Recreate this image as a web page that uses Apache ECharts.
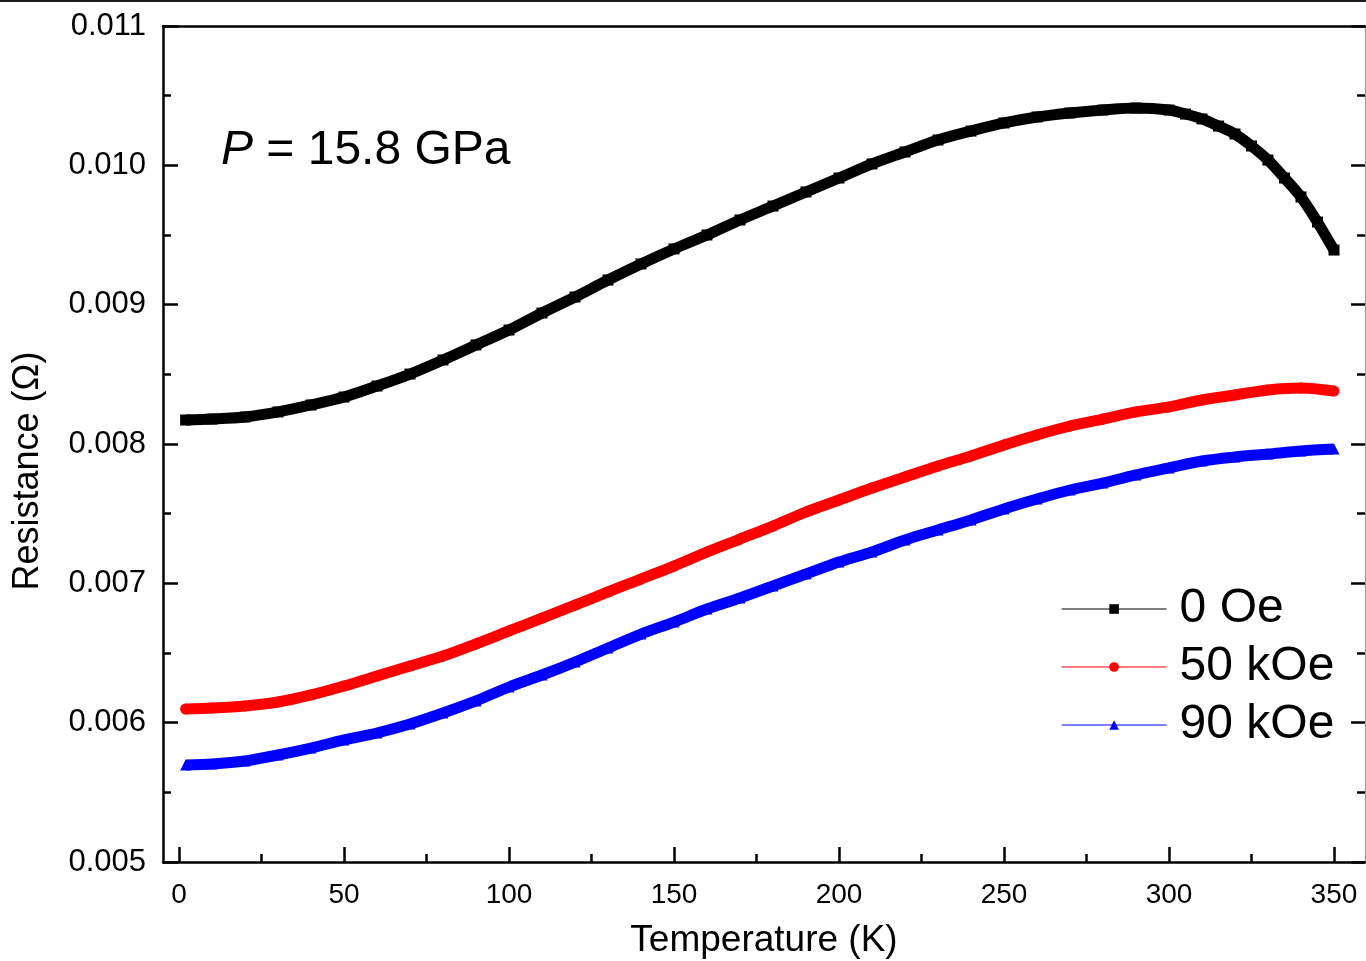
<!DOCTYPE html>
<html>
<head>
<meta charset="utf-8">
<script src="https://cdn.jsdelivr.net/npm/echarts@6/dist/echarts.min.js"></script>
<style>html,body{margin:0;padding:0;background:#fff}#c{width:1366px;height:961px}</style>
</head>
<body>
<div id="c"></div>
<script>
// ---- data ----
const tempsBlack = [2,10,20,30,40,50,60,70,80,90,100,110,120,130,140,150,160,170,180,190,200,210,220,230,240,250,260,270,280,290,300,305,310,315,320,325,330,335,340,345,350];
const r0Oe = [0.008172,0.008179,0.008194,0.008230,0.008280,0.008337,0.008416,0.008502,0.008603,0.008711,0.008818,0.008940,0.009055,0.009177,0.009292,0.009400,0.009500,0.009608,0.009708,0.009809,0.009909,0.010010,0.010096,0.010182,0.010246,0.010304,0.010347,0.010376,0.010397,0.010411,0.010397,0.010368,0.010333,0.010282,0.010225,0.010139,0.010038,0.009909,0.009773,0.009593,0.009392];
const temps = [2,10,20,30,40,50,60,70,80,90,100,110,120,130,140,150,160,170,180,190,200,210,220,230,240,250,260,270,280,290,300,310,320,330,340,350];
const r50kOe = [0.006098,0.006105,0.006120,0.006148,0.006199,0.006263,0.006335,0.006407,0.006478,0.006565,0.006658,0.006751,0.006844,0.006938,0.007031,0.007124,0.007225,0.007318,0.007411,0.007512,0.007598,0.007684,0.007763,0.007842,0.007914,0.007993,0.008065,0.008129,0.008179,0.008230,0.008266,0.008316,0.008352,0.008388,0.008402,0.008380];
const r90kOe = [0.005696,0.005703,0.005725,0.005768,0.005818,0.005876,0.005926,0.005990,0.006069,0.006156,0.006256,0.006342,0.006435,0.006536,0.006636,0.006722,0.006816,0.006895,0.006981,0.007067,0.007153,0.007225,0.007311,0.007383,0.007455,0.007534,0.007605,0.007670,0.007720,0.007778,0.007828,0.007878,0.007907,0.007928,0.007950,0.007964];
const seriesNames = ['0 Oe', '50 kOe', '90 kOe'];
const xMajorTicks = [0,50,100,150,200,250,300,350];
const xMinorTicks = [25,75,125,175,225,275,325];
const yMin = 0.005, yMax = 0.011, yStep = 0.001;
const xMin = -4.85, xMax = 359.4;

const FONT = "'Liberation Sans', Arial, Helvetica, sans-serif";
const pair = (xs, ys) => xs.map((x, i) => [x, ys[i]]);
const tickStyle = {color: '#000', width: 2.5};

const chart = echarts.init(document.getElementById('c'), null, {renderer: 'canvas', width: 1366, height: 961});

function mkSeries(name, xs, ys, color, symbol) {
  return {
    name: name, type: 'line', xAxisIndex: 0, yAxisIndex: 0,
    data: pair(xs, ys),
    smooth: 0.3,
    symbol: symbol, symbolSize: 11, showSymbol: true,
    lineStyle: {color: color, width: 11},
    itemStyle: {color: color},
    emphasis: {disabled: true}
  };
}

const option = {
  backgroundColor: '#fff',
  animation: false,
  grid: {left: 163, right: 1, top: 26, bottom: 99, containLabel: false, outerBoundsMode: 'none'},
  xAxis: [
    {
      type: 'value', position: 'bottom', min: xMin, max: xMax,
      name: 'Temperature (K)', nameLocation: 'middle', nameGap: 60,
      nameTextStyle: {fontFamily: FONT, fontSize: 37, color: '#000'},
      axisLine: {show: true, onZero: false, lineStyle: {color: '#000', width: 2.5}},
      axisTick: {show: true, inside: true, length: 15, customValues: xMajorTicks, lineStyle: tickStyle},
      axisLabel: {show: true, customValues: xMajorTicks, margin: 19, fontFamily: FONT, fontSize: 28, color: '#000'},
      splitLine: {show: false}
    },
    {
      type: 'value', position: 'bottom', min: xMin, max: xMax,
      axisLine: {show: false, onZero: false},
      axisTick: {show: true, inside: true, length: 8, customValues: xMinorTicks, lineStyle: tickStyle},
      axisLabel: {show: false},
      splitLine: {show: false}
    },
    {
      type: 'value', position: 'top', min: xMin, max: xMax,
      axisLine: {show: true, onZero: false, lineStyle: {color: '#000', width: 2.5}},
      axisTick: {show: false},
      axisLabel: {show: false},
      splitLine: {show: false}
    }
  ],
  yAxis: [
    {
      type: 'value', position: 'left', min: yMin, max: yMax, interval: yStep,
      axisLine: {show: true, onZero: false, lineStyle: {color: '#000', width: 2.5}},
      axisTick: {show: true, inside: true, length: 15, lineStyle: tickStyle},
      minorTick: {show: true, splitNumber: 2, length: 8, lineStyle: tickStyle},
      axisLabel: {show: true, margin: 17, fontFamily: FONT, fontSize: 31, color: '#000',
        formatter: v => v.toFixed(3)},
      splitLine: {show: false}, minorSplitLine: {show: false}
    },
    {
      type: 'value', position: 'right', min: yMin, max: yMax, interval: yStep,
      axisLine: {show: true, onZero: false, lineStyle: {color: '#9a9a9a', width: 1.2}},
      axisTick: {show: true, inside: true, length: 14, lineStyle: tickStyle},
      minorTick: {show: true, splitNumber: 2, length: 8, lineStyle: tickStyle},
      axisLabel: {show: false},
      splitLine: {show: false}, minorSplitLine: {show: false}
    }
  ],
  legend: {
    data: seriesNames,
    orient: 'vertical', left: 1061, top: 585, padding: 0,
    itemWidth: 105, itemHeight: 12, itemGap: 10,
    lineStyle: {width: 1.2},
    textStyle: {fontFamily: FONT, fontSize: 48, color: '#000', padding: [0, 0, 0, 8]},
    selectedMode: false
  },
  graphic: [
    {type: 'rect', shape: {x: 0, y: 0, width: 1366, height: 2}, style: {fill: '#1a1a1a'}, silent: true},
    {type: 'text', x: 28, y: 471, rotation: Math.PI / 2,
      style: {text: 'Resistance (\u03A9)', fontFamily: FONT, fontSize: 36, fill: '#000', align: 'center', verticalAlign: 'middle'}},
    {type: 'text', x: 221, y: 151,
      style: {text: '{i|P} = 15.8 GPa', fontFamily: FONT, fontSize: 48, fill: '#000', verticalAlign: 'middle',
        rich: {i: {fontStyle: 'italic', fontFamily: FONT, fontSize: 48, fill: '#000'}}}}
  ],
  series: [
    mkSeries(seriesNames[0], tempsBlack, r0Oe, '#000000', 'rect'),
    mkSeries(seriesNames[1], temps, r50kOe, '#ff0000', 'circle'),
    mkSeries(seriesNames[2], temps, r90kOe, '#0000ff', 'triangle')
  ]
};
chart.setOption(option);
</script>
</body>
</html>
